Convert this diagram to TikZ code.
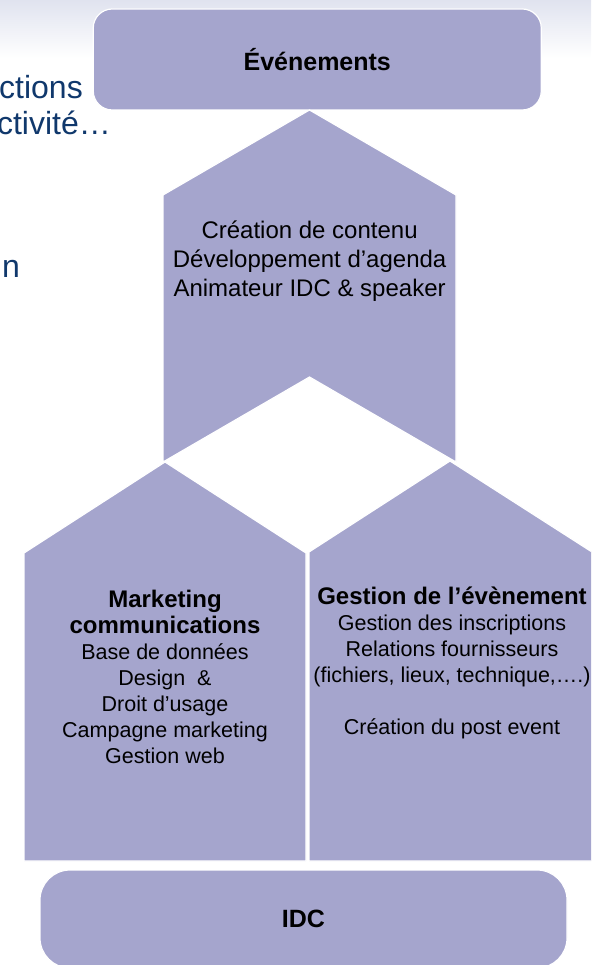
\documentclass[tikz,border=0pt]{standalone}
\usepackage{fontspec}
\setmainfont{Liberation Sans}
\definecolor{boxfill}{RGB}{165,165,205}
\definecolor{navytext}{RGB}{16,56,108}
\definecolor{bgtop}{RGB}{224,227,239}
\begin{document}
\begin{tikzpicture}[x=1pt,y=-1pt,
  shp/.style={fill=boxfill, draw=white, line width=1.2pt, line join=miter},
  lbl/.style={align=center, text=black, inner sep=0pt},
  bodyfont/.style={font=\fontsize{21.5}{26}\selectfont},
  bgtext/.style={text=navytext, font=\fontsize{32}{36}\selectfont, inner sep=0pt, anchor=base east}]
\useasboundingbox (0,0) rectangle (591,965);
\clip (0,0) rectangle (591,965);
\shade[top color=bgtop, bottom color=white] (0,0) rectangle (591,58);
% background slide text
\node[bgtext] (t1) at (83,99) {ctions};
\node[bgtext] (t2) at (111,135) {ctivité…};
\node[bgtext] (t3) at (20,278) {n};
% top box
\node[shp, rectangle, rounded corners=19pt, minimum width=448pt, minimum height=101pt, inner sep=0pt,
      font=\fontsize{25}{30}\selectfont\bfseries] (evt) at (317.25,59.5) {Événements};
% lower left house
\draw[shp] (24,861) -- (24,553) -- (165,462) -- (306,553) -- (306,861) -- cycle;
% lower right house
\draw[shp] (309,861) -- (309,552) -- (450,461) -- (592,552) -- (592,861) -- cycle;
% middle chevron
\draw[shp] (163,195) -- (309.5,110) -- (456,195) -- (456,462) -- (309.5,377) -- (163,462) -- cycle;
% texts
\node[lbl, font=\fontsize{24}{28.8}\selectfont] (mid) at (309.6,261) {Création de contenu\\Développement d’agenda\\Animateur IDC \& speaker};
\node[lbl, bodyfont] (mkt) at (165,677) {{\fontsize{24}{26}\selectfont\bfseries Marketing}\\{\fontsize{24}{26}\selectfont\bfseries communications}\\Base de données\\Design~ \&\\Droit d’usage\\Campagne marketing\\Gestion web};
\node[lbl, bodyfont] (gest) at (452,663) {{\fontsize{24}{26}\selectfont\bfseries Gestion de l’évènement}\\Gestion des inscriptions\\Relations fournisseurs\\(fichiers, lieux, technique,….)\\[26pt]Création du post event};
% bottom box
\node[shp, rectangle, rounded corners=30pt, minimum width=527pt, minimum height=98pt, inner sep=0pt,
      font=\fontsize{25}{30}\selectfont\bfseries] (idc) at (303.5,919) {IDC};
\end{tikzpicture}
\end{document}
